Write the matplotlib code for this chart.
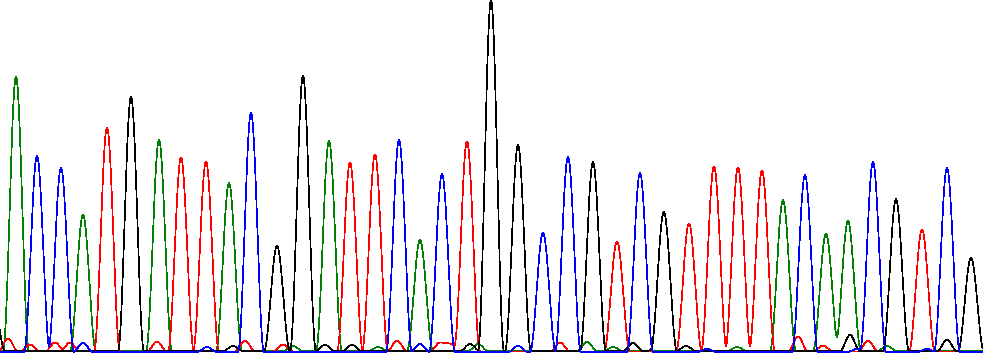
import numpy as np
import matplotlib
matplotlib.use("Agg")
import matplotlib.pyplot as plt

# Main called peaks: (scan position, height) per dye channel
green_pos = [16, 83, 159, 229, 329, 420, 783, 826, 848]
green_hgt = [274, 136, 211, 168, 210, 111, 151, 117, 130]
blue_pos = [37, 61, 251, 399, 442, 543, 568, 640, 805, 873, 947]
blue_hgt = [196, 184, 239, 212, 178, 119, 195, 179, 177, 190, 184]
red_pos = [107, 181, 206, 350, 375, 467, 617, 689, 714, 738, 762, 922]
red_hgt = [224, 194, 190, 189, 197, 210, 110, 128, 185, 184, 181, 122]
black_pos = [-8, 131, 277, 303, 491, 518, 593, 664, 896, 971]
black_hgt = [60, 254, 105, 275, 351, 206, 189, 138, 152, 93]

# Small background bumps
green_bg_pos = [293, 378, 478, 587, 613, 737, 887]
green_bg_hgt = [5, 4, 7, 9, 4, 4, 5]
blue_bg_pos = [83, 207, 420, 518, 707, 927, 857]
blue_bg_hgt = [9, 5, 8, 6, 3, 3, 3]
red_bg_pos = [8, 30, 55, 70, 157, 245, 283, 397, 440, 450, 560, 798, 823, 868]
red_bg_hgt = [13, 7, 9, 9, 10, 11, 7, 11, 9, 8, 9, 15, 6, 11]
black_bg_pos = [233, 325, 352, 470, 633, 657, 686, 850, 947]
black_bg_hgt = [5, 6, 6, 7, 8, 4, 5, 16, 11]

channels = [
    ("#008000", green_pos, green_hgt, green_bg_pos, green_bg_hgt, 1.0),
    ("#ff0000", red_pos, red_hgt, red_bg_pos, red_bg_hgt, 0.5),
    ("#000000", black_pos, black_hgt, black_bg_pos, black_bg_hgt, 1.0),
    ("#0000ff", blue_pos, blue_hgt, blue_bg_pos, blue_bg_hgt, 0.0),
]

x = np.arange(-15, 983, 0.5)
half_w = 13.0


def peak(x, p, h, w):
    d = np.clip(np.abs(x - p) / w, 0, 1)
    return h * np.cos(d * np.pi / 2) ** 2


fig = plt.figure(figsize=(9.89, 3.61), dpi=100)
ax = fig.add_axes([0, 0, 1, 1])

for color, pos, hgt, bpos, bhgt, base in channels:
    y = np.full_like(x, base, dtype=float)
    for p, h in zip(pos, hgt):
        y += peak(x, p, h, half_w)
    for p, h in zip(bpos, bhgt):
        y += peak(x, p, h, 10.0)
    ax.plot(x, y, color=color, linewidth=0.5, antialiased=False)

ax.set_xlim(0, 989)
ax.set_ylim(-9, 352)
ax.axis("off")

fig.savefig("out.png", dpi=100)
